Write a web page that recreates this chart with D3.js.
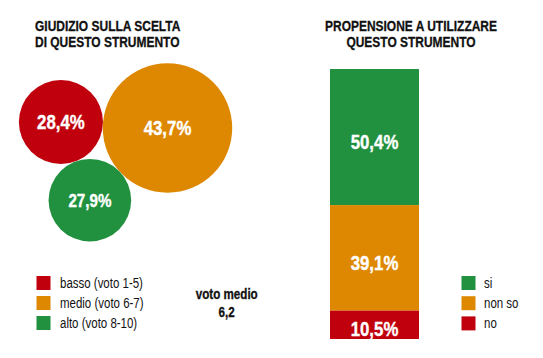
<!DOCTYPE html>
<html>
<head>
<meta charset="utf-8">
<script src="https://cdn.jsdelivr.net/npm/d3@7"></script>
<style>
  html, body { margin: 0; padding: 0; background: #fff; }
  svg { display: block; font-family: "Liberation Sans", Arial, sans-serif; }
</style>
</head>
<body>
<svg id="chart" width="543" height="358"></svg>
<script>
// ---- data ----
const leftTitle = ["GIUDIZIO SULLA SCELTA", "DI QUESTO STRUMENTO"];
const rightTitle = ["PROPENSIONE A UTILIZZARE", "QUESTO STRUMENTO"];
const judgeCategories = ["basso (voto 1-5)", "medio (voto 6-7)", "alto (voto 8-10)"];
const judgeValues = [28.4, 43.7, 27.9];
const judgeLabels = ["28,4%", "43,7%", "27,9%"];
const averageLabel = ["voto medio", "6,2"];
const useCategories = ["si", "non so", "no"];
const useValues = [50.4, 39.1, 10.5];
const useLabels = ["50,4%", "39,1%", "10,5%"];

const RED = "#c0000c", ORANGE = "#dd8800", GREEN = "#21913f";
const judgeColors = [RED, ORANGE, GREEN];
const useColors = [GREEN, ORANGE, RED];
const SX = 0.82; // condensed look

const svg = d3.select("#chart");
const tf = (x, y) => `translate(${x},${y}) scale(${SX},1)`;

// ---- titles ----
function title(lines, x, anchor) {
  lines.forEach((l, i) => svg.append("text").attr("text-anchor", anchor)
    .attr("font-weight", "bold").attr("font-size", 14.6).attr("fill", "#111")
    .attr("stroke", "#111").attr("stroke-width", 0.3)
    .attr("transform", tf(x, 30.5 + i * 16.5)).text(l));
}
title(leftTitle, 35, "start");
title(rightTitle, 411, "middle");

// ---- bubbles ----
const r = d3.scaleLinear().domain([0, d3.max(judgeValues)]).range([0, 64.7]);
const radii = judgeValues.map(v => r(v));
const cO = { x: 167.5, y: 128 };
const ang = Math.PI + 0.056;
const dRO = radii[0] + radii[1];
const cR = { x: cO.x + dRO * Math.cos(ang), y: cO.y + dRO * Math.sin(ang) };
function tangentBelow(a, ra, b, rb, rc) {
  const d1 = ra + rc, d2 = rb + rc;
  const dx = b.x - a.x, dy = b.y - a.y, d = Math.hypot(dx, dy);
  const l = (d1 * d1 - d2 * d2 + d * d) / (2 * d);
  const h = Math.sqrt(Math.max(0, d1 * d1 - l * l));
  const mx = a.x + l * dx / d, my = a.y + l * dy / d;
  const p1 = { x: mx - h * dy / d, y: my + h * dx / d };
  const p2 = { x: mx + h * dy / d, y: my - h * dx / d };
  return p1.y > p2.y ? p1 : p2;
}
const cG = tangentBelow(cR, radii[0], cO, radii[1], radii[2]);
const centers = [cR, cO, cG];
const bubbles = judgeValues.map((v, i) => ({ v, r: radii[i], c: centers[i], color: judgeColors[i], label: judgeLabels[i], fs: i === 2 ? 18.5 : 20.5 }));

const bg = svg.append("g");
bg.selectAll("circle").data(bubbles).join("circle")
  .attr("cx", d => d.c.x).attr("cy", d => d.c.y).attr("r", d => d.r)
  .attr("fill", d => d.color);
bg.selectAll("text").data(bubbles).join("text")
  .attr("transform", d => tf(d.c.x, d.c.y + 6.6))
  .attr("text-anchor", "middle").attr("font-weight", "bold")
  .attr("stroke", "#fff").attr("stroke-width", 0.4)
  .attr("font-size", d => d.fs).attr("fill", "#fff").text(d => d.label);

// ---- left legend ----
const lg = svg.append("g");
judgeCategories.forEach((c, i) => {
  lg.append("rect").attr("x", 36.5).attr("y", 276 + i * 20).attr("width", 14).attr("height", 14).attr("fill", judgeColors[i]);
  lg.append("text").attr("transform", tf(60, 288 + i * 20)).attr("font-size", 14).attr("fill", "#111").text(c);
});

// ---- average ----
averageLabel.forEach((l, i) => svg.append("text").attr("text-anchor", "middle").attr("font-weight", "bold")
  .attr("font-size", 14.2).attr("fill", "#111").attr("stroke", "#111").attr("stroke-width", 0.3)
  .attr("transform", tf(226.7, 299.3 + i * 17.7)).text(l));

// ---- stacked bar ----
const y = d3.scaleLinear().domain([0, d3.sum(useValues)]).range([69, 339]);
let acc = 0;
const segs = useValues.map((v, i) => {
  const s = { y0: acc, y1: acc + v, color: useColors[i], label: useLabels[i] };
  acc += v;
  return s;
});
const barX = 330, barW = 89;
const bar = svg.append("g");
bar.selectAll("rect").data(segs).join("rect")
  .attr("x", barX).attr("width", barW)
  .attr("y", d => y(d.y0)).attr("height", d => y(d.y1) - y(d.y0))
  .attr("fill", d => d.color);
bar.selectAll("text").data(segs).join("text")
  .attr("transform", d => tf(barX + barW / 2, Math.min((y(d.y0) + y(d.y1)) / 2 + 11.8, y(d.y1) - 3.5)))
  .attr("text-anchor", "middle").attr("font-weight", "bold")
  .attr("stroke", "#fff").attr("stroke-width", 0.4)
  .attr("font-size", 20.5).attr("fill", "#fff").text(d => d.label);

// ---- right legend ----
const rg = svg.append("g");
useCategories.forEach((c, i) => {
  rg.append("rect").attr("x", 461.5).attr("y", 276 + i * 20.2).attr("width", 14).attr("height", 14).attr("fill", useColors[i]);
  rg.append("text").attr("transform", tf(484, 288 + i * 20.2)).attr("font-size", 14).attr("fill", "#111").text(c);
});
</script>
</body>
</html>
